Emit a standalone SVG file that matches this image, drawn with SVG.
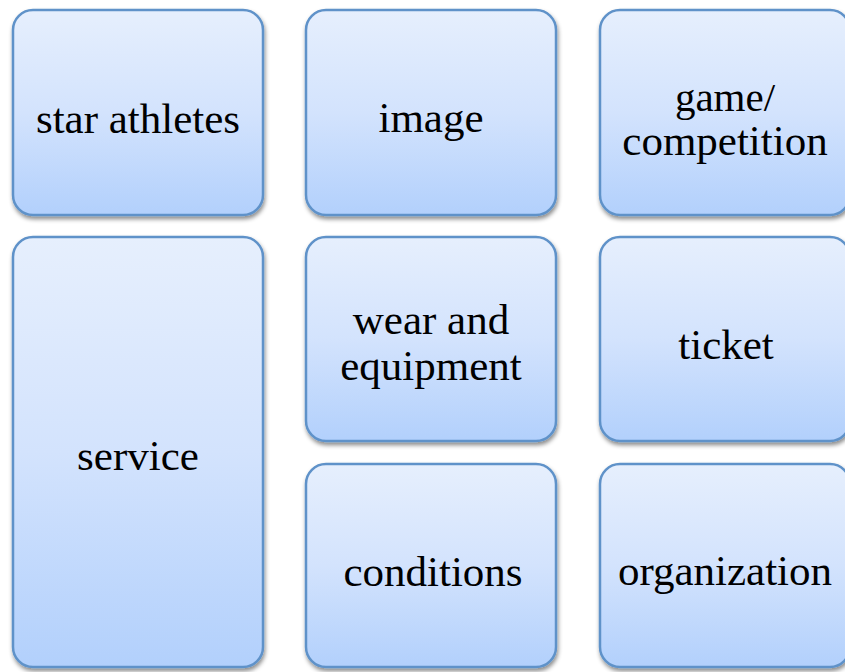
<svg xmlns="http://www.w3.org/2000/svg" width="845" height="672" viewBox="0 0 845 672">
  <defs>
    <linearGradient id="boxFill" x1="0" y1="0" x2="0" y2="1">
      <stop offset="0" stop-color="#e6effd"/>
      <stop offset="0.5" stop-color="#d3e3fd"/>
      <stop offset="1" stop-color="#b2d0fc"/>
    </linearGradient>
    <filter id="shadow" x="-10%" y="-10%" width="120%" height="125%">
      <feDropShadow dx="1" dy="3" stdDeviation="2" flood-color="#000" flood-opacity="0.45"/>
    </filter>
    <style>
      .box { fill: url(#boxFill); stroke: #5f92c9; stroke-width: 2.5; filter: url(#shadow); }
      .label { font-family: "Liberation Serif", "Times New Roman", serif; font-size: 43px; fill: #000; text-anchor: middle; }
      .label2 { font-size: 41px; }
    </style>
  </defs>
  <rect width="845" height="672" fill="#ffffff"/>

  <g id="star-athletes">
    <rect class="box" x="13" y="10" width="250" height="205" rx="20"/>
    <text class="label" x="138" y="133">star athletes</text>
  </g>

  <g id="image">
    <rect class="box" x="306" y="10" width="250" height="205" rx="20"/>
    <text class="label" x="431" y="132">image</text>
  </g>

  <g id="game-competition">
    <rect class="box" x="600" y="10" width="250" height="205" rx="20"/>
    <text class="label label2" x="725" y="111">game/</text>
    <text class="label" x="725" y="155">competition</text>
  </g>

  <g id="service">
    <rect class="box" x="13" y="237" width="250" height="430" rx="20"/>
    <text class="label" x="138" y="470">service</text>
  </g>

  <g id="wear-and-equipment">
    <rect class="box" x="306" y="237" width="250" height="204" rx="20"/>
    <text class="label" x="431" y="334">wear and</text>
    <text class="label" x="431" y="380">equipment</text>
  </g>

  <g id="ticket">
    <rect class="box" x="600" y="237" width="250" height="204" rx="20"/>
    <text class="label" x="726" y="359">ticket</text>
  </g>

  <g id="conditions">
    <rect class="box" x="306" y="464" width="250" height="203" rx="20"/>
    <text class="label" x="433" y="586">conditions</text>
  </g>

  <g id="organization">
    <rect class="box" x="600" y="464" width="250" height="203" rx="20"/>
    <text class="label" x="725" y="585">organization</text>
  </g>
</svg>
